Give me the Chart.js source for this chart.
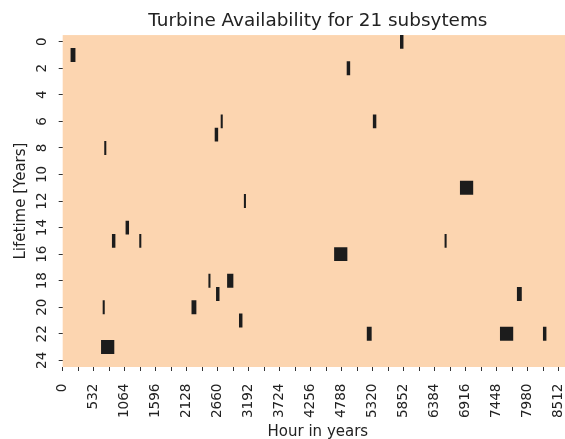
<!DOCTYPE html>
<html>
<head>
<meta charset="utf-8">
<title>Turbine Availability</title>
<script src="https://cdn.jsdelivr.net/npm/chart.js@4/dist/chart.umd.min.js"></script>
<style>
    html, body { margin: 0; padding: 0; background: #fff; overflow: hidden; }
    #wrap { width: 576px; height: 445px; }
</style>
</head>
<body>
<div id="wrap"><canvas id="availability" width="576" height="445"></canvas></div>
<script>
// rows of the heatmap (lifetime year 0..24)
var lifetimeYears = [0, 1, 2, 3, 4, 5, 6, 7, 8, 9, 10, 11, 12, 13, 14, 15, 16, 17, 18, 19, 20, 21, 22, 23, 24];

// labelled hour ticks on the x axis
var hourTicks = [0, 532, 1064, 1596, 2128, 2660, 3192, 3724, 4256, 4788, 5320, 5852, 6384, 6916, 7448, 7980, 8512];
var hoursPerYear = 8760;

// outages (unavailable periods), one entry per dark mark
var outageYear  = [0, 1, 2, 6, 6, 7, 8, 11, 12, 14, 15, 15, 15, 16, 18, 18, 19, 19, 20, 20, 21, 22, 22, 22, 23];
var outageStart = [5796, 141, 4881, 2718, 5330, 2615, 719, 6825, 3116, 1085, 851, 1320, 6561, 4665, 2507, 2828, 2638, 7803, 692, 2217, 3032, 5226, 7512, 8250, 664];
var outageHours = [48, 72, 48, 24, 48, 48, 24, 216, 24, 48, 48, 24, 24, 216, 24, 96, 48, 72, 24, 72, 48, 72, 216, 48, 216];

var availableColor = '#fcd5b0';
var downColor = '#1c1c1c';
var textColor = '#222222';

Chart.defaults.font.family = "'DejaVu Sans', sans-serif";
Chart.defaults.color = textColor;

// fill the plot area with the "available" colour
var plotBackground = {
    id: 'plotBackground',
    beforeDatasetsDraw: function (chart) {
        var a = chart.chartArea;
        var ctx = chart.ctx;
        ctx.save();
        ctx.fillStyle = availableColor;
        ctx.fillRect(a.left, a.top, a.right - a.left, a.bottom - a.top);
        ctx.restore();
    }
};

function createChart() {
    var ctx = document.getElementById('availability');

    new Chart(ctx, {
        type: 'bar',
        data: {
            labels: lifetimeYears,
            datasets: [{
                label: 'Unavailable',
                data: outageYear.map(function (year, i) {
                    return { y: year, x: [outageStart[i], outageStart[i] + outageHours[i]] };
                }),
                backgroundColor: downColor,
                borderWidth: 0,
                borderSkipped: false,
                barPercentage: 1,
                categoryPercentage: 1
            }]
        },
        options: {
            indexAxis: 'y',
            responsive: false,
            animation: false,
            layout: { padding: { left: 8.5, right: 3, top: 0, bottom: 0 } },
            plugins: {
                legend: { display: false },
                tooltip: { enabled: false },
                title: {
                    display: true,
                    text: 'Turbine Availability for 21 subsytems',
                    fullSize: false,
                    color: textColor,
                    font: { size: 18.4, weight: 'normal' },
                    padding: { top: 10, bottom: 3 }
                }
            },
            scales: {
                x: {
                    type: 'linear',
                    min: 0,
                    max: hoursPerYear,
                    border: { display: false },
                    grid: { drawOnChartArea: false, drawTicks: true, tickLength: 4, color: '#333' },
                    afterBuildTicks: function (scale) {
                        var t = [];
                        hourTicks.forEach(function (v) {
                            t.push({ value: v });
                            if (v + 266 <= hoursPerYear) t.push({ value: v + 266 });
                        });
                        scale.ticks = t;
                    },
                    afterFit: function (scale) {
                        scale.height = 78;
                        scale.paddingLeft = 0;
                        scale.paddingRight = 0;
                    },
                    ticks: {
                        autoSkip: false,
                        minRotation: 90,
                        maxRotation: 90,
                        padding: 12.5,
                        font: { size: 13.6 },
                        color: textColor,
                        callback: function (value) {
                            return hourTicks.indexOf(value) >= 0 ? String(value) : '';
                        }
                    },
                    title: {
                        display: true,
                        text: 'Hour in years',
                        color: textColor,
                        font: { size: 15 },
                        padding: { top: 4, bottom: 3.4 }
                    }
                },
                y: {
                    type: 'category',
                    offset: true,
                    border: { display: false },
                    grid: { offset: false, drawOnChartArea: false, drawTicks: true, tickLength: 4, color: '#333' },
                    afterFit: function (scale) {
                        scale.width = 54.2;
                    },
                    ticks: {
                        autoSkip: false,
                        minRotation: 90,
                        maxRotation: 90,
                        crossAlign: 'center',
                        padding: 7.6,
                        font: { size: 13.5 },
                        color: textColor,
                        callback: function (value, index) {
                            return index % 2 === 0 ? String(lifetimeYears[index]) : null;
                        }
                    },
                    title: {
                        display: true,
                        text: 'Lifetime [Years]',
                        color: textColor,
                        font: { size: 15 },
                        padding: { top: 4, bottom: 4 }
                    }
                }
            }
        },
        plugins: [plotBackground]
    });
}

createChart();
</script>
</body>
</html>
